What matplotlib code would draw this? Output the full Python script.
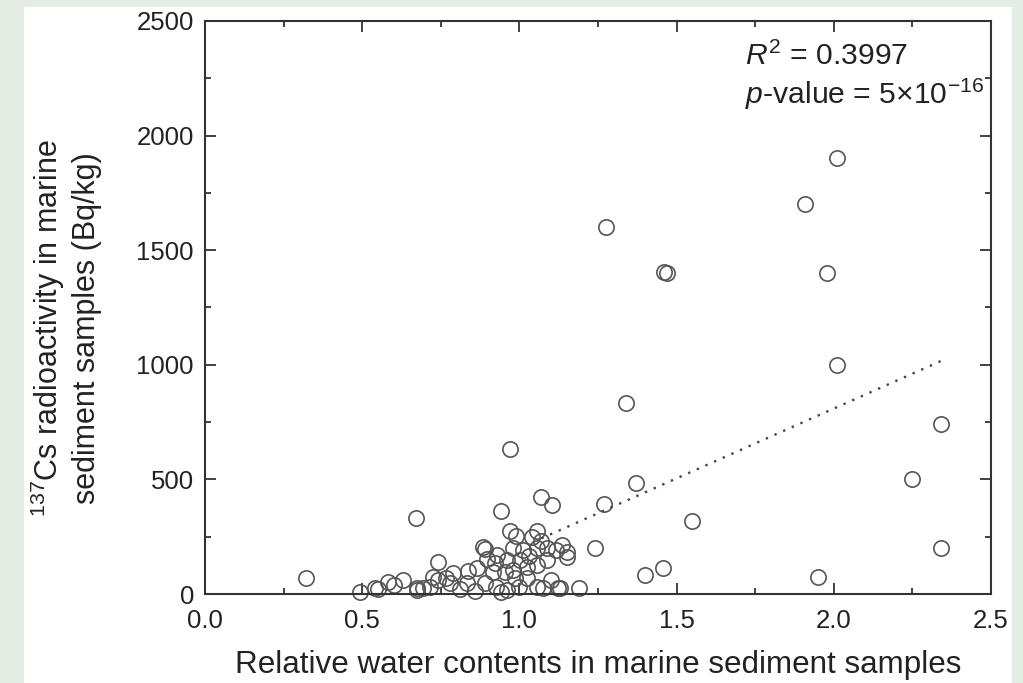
import matplotlib.pyplot as plt
from matplotlib.patches import Rectangle
from matplotlib.ticker import MultipleLocator

plt.rcParams['font.family'] = ['Liberation Sans', 'DejaVu Sans']
plt.rcParams['mathtext.fontset'] = 'custom'
plt.rcParams['mathtext.rm'] = 'Liberation Sans'
plt.rcParams['mathtext.it'] = 'Liberation Sans:italic'

# relative water content vs 137Cs activity (Bq/kg)
water = [0.32, 0.67, 0.74, 0.94, 0.97, 0.97, 0.99, 1.04, 1.055, 1.07,
         1.105, 1.135, 1.15, 1.15, 1.24, 1.27, 1.275, 1.34, 1.37, 1.40,
         1.457, 1.46, 1.47, 1.55, 1.91, 1.95, 1.98, 2.01, 2.01, 2.25,
         2.34, 2.34, 1.19, 1.13,
         0.885, 0.89, 0.98, 1.012, 1.055, 1.087, 1.118, 0.896, 0.922, 0.959,
         1.002, 1.087, 0.837, 0.864, 0.79, 0.726, 0.742, 0.917, 0.954, 0.98,
         1.023, 1.055, 1.023, 0.986, 0.583, 0.629, 0.673, 0.779, 0.832, 0.89,
         0.927, 0.959, 1.055, 1.076, 1.123, 0.715, 0.768, 0.493, 0.541, 0.694,
         0.673, 0.55, 0.60, 0.81, 0.86, 0.94, 1.00, 1.10, 0.93, 1.03, 1.07]
cs137 = [68, 330, 141, 362, 633, 275, 253, 250, 276, 425,
         390, 214, 185, 160, 199, 393, 1600, 832, 483, 83,
         112, 1404, 1400, 320, 1700, 75, 1400, 1900, 1000, 500,
         740, 200, 25, 25,
         206, 195, 199, 192, 199, 199, 192, 151, 134, 148,
         148, 148, 102, 112, 90, 75, 61, 97, 97, 105,
         119, 127, 68, 68, 54, 61, 25, 47, 47, 47,
         32, 17, 32, 25, 25, 32, 68, 10, 25, 25,
         17, 20, 40, 20, 15, 10, 30, 60, 170, 165, 230]

# linear fit shown as dotted line
fit_x = [1.07, 2.34]
fit_slope = 609
fit_icpt = -409

fig = plt.figure(figsize=(10.23, 6.83), dpi=100, facecolor='#e3ede3')
fig.patches.append(Rectangle((24 / 1023, 0), (1012 - 24) / 1023, 1 - 7 / 683,
                             transform=fig.transFigure, facecolor='white',
                             edgecolor='none', zorder=-5))
ax = fig.add_axes([0.2004, 0.1303, 0.7683, 0.839])
ax.set_zorder(2)
ax.patch.set_alpha(0)

ax.plot(water, cs137, linestyle='none', marker='o', markersize=11,
        mfc='none', mec='#555555', mew=1.2, clip_on=False)
ax.plot(fit_x, [fit_slope * v + fit_icpt for v in fit_x], color='#444444',
        linestyle=(0, (1, 3)), lw=1.7)

ax.set_xlim(0, 2.5)
ax.set_ylim(0, 2500)
ax.xaxis.set_major_locator(MultipleLocator(0.5))
ax.xaxis.set_minor_locator(MultipleLocator(0.25))
ax.yaxis.set_major_locator(MultipleLocator(500))
ax.yaxis.set_minor_locator(MultipleLocator(250))
ax.xaxis.set_major_formatter(plt.FormatStrFormatter('%.1f'))
ax.tick_params(which='both', direction='in', top=True, right=True,
               width=1.3, color='#333333', labelsize=18.5, labelcolor='#222222')
ax.tick_params(which='major', length=8, pad=8)
ax.tick_params(which='minor', length=4)
ax.tick_params(axis='x', which='major', pad=11)
for s in ax.spines.values():
    s.set_linewidth(1.5)
    s.set_color('#333333')

ax.set_xlabel('Relative water contents in marine sediment samples',
              fontsize=22.6, color='#222222', labelpad=12)
ax.set_ylabel('$^{137}$Cs radioactivity in marine\nsediment samples (Bq/kg)',
              fontsize=22, color='#222222')
ax.yaxis.set_label_coords(-0.131, 0.464)

ax.text(0.687, 0.963, '$R^2$ = 0.3997', transform=ax.transAxes, fontsize=21.7,
        color='#222222', va='top', ha='left')
ax.text(0.687, 0.902, '$p$-value = 5×10$^{-16}$', transform=ax.transAxes,
        fontsize=21.7, color='#222222', va='top', ha='left')

fig.savefig('out.png', dpi=100, facecolor=fig.get_facecolor())
